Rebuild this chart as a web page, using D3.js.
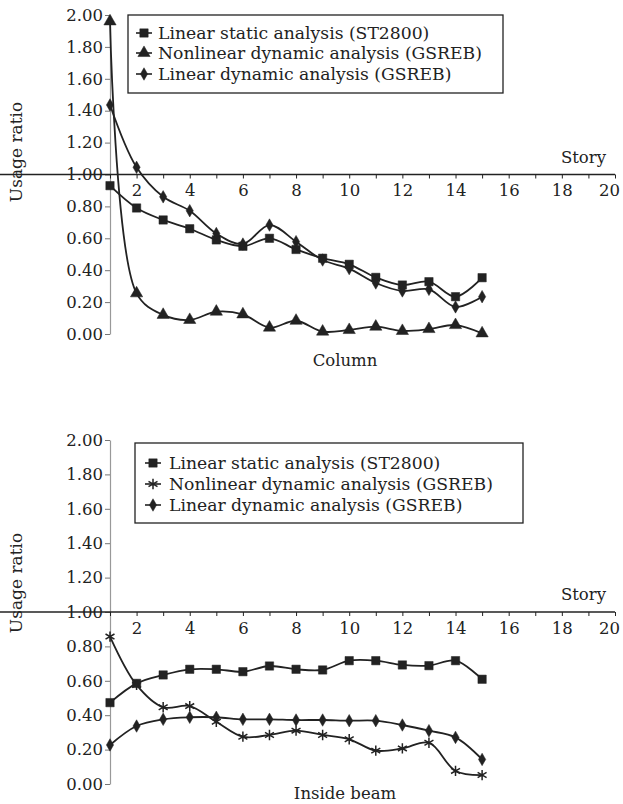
<!DOCTYPE html>
<html>
<head>
<meta charset="utf-8">
<script src="https://cdn.jsdelivr.net/npm/d3@7"></script>
<style>
  body { margin: 0; background: #fff; }
  text { font-family: "DejaVu Serif", serif; fill: #222; }
</style>
</head>
<body>
<div id="chart"></div>
<script>
// stories 1..15
const STORIES = d3.range(1, 16)
const Y_TICKS = [0, 0.2, 0.4, 0.6, 0.8, 1.0, 1.2, 1.4, 1.6, 1.8, 2.0]
const X_TICKS = d3.range(1, 21)

const SERIES_NAMES_TOP = ["Linear static analysis (ST2800)", "Nonlinear dynamic analysis (GSREB)", "Linear dynamic analysis (GSREB)"]
const SERIES_NAMES_BOTTOM = ["Linear static analysis (ST2800)", "Nonlinear dynamic analysis (GSREB)", "Linear dynamic analysis (GSREB)"]

// column
const COL_STATIC = [0.93, 0.79, 0.715, 0.66, 0.59, 0.55, 0.60, 0.53, 0.475, 0.437, 0.355, 0.307, 0.328, 0.234, 0.353]
const COL_NONLIN = [1.96, 0.255, 0.12, 0.088, 0.14, 0.123, 0.04, 0.083, 0.015, 0.025, 0.046, 0.019, 0.031, 0.056, 0.004]
const COL_LINDYN = [1.436, 1.045, 0.86, 0.773, 0.63, 0.564, 0.683, 0.579, 0.464, 0.41, 0.32, 0.27, 0.28, 0.17, 0.234]

// inside beam
const BEAM_STATIC = [0.473, 0.585, 0.634, 0.667, 0.667, 0.653, 0.686, 0.667, 0.663, 0.717, 0.717, 0.692, 0.688, 0.717, 0.609]
const BEAM_NONLIN = [0.857, 0.576, 0.446, 0.453, 0.362, 0.275, 0.285, 0.31, 0.285, 0.26, 0.194, 0.207, 0.24, 0.076, 0.052]
const BEAM_LINDYN = [0.227, 0.337, 0.376, 0.388, 0.388, 0.376, 0.376, 0.372, 0.372, 0.368, 0.368, 0.343, 0.31, 0.271, 0.143]

const WIDTH = 623, HEIGHT = 804
const INK = "#222"
const FONT = "16.5px"

let svg = d3.select("#chart").append("svg")
    .attr("width", WIDTH)
    .attr("height", HEIGHT)

/**
 * Draw one panel
 */
function drawPanel(opts) {
    let g = svg.append("g")
    let x = d3.scaleLinear().domain([1, 20]).range([110, 615])
    let y = d3.scaleLinear().domain([0, 2]).range([opts.bottom, opts.top])

    // y axis
    let ya = g.append("g")
        .attr("transform", "translate(110,0)")
        .call(d3.axisLeft(y).tickValues(Y_TICKS).tickFormat(d3.format(".2f")).tickSize(5).tickSizeOuter(0).tickPadding(2))
    ya.select(".domain").attr("stroke", "#999").attr("stroke-width", 1.2)
    ya.selectAll(".tick line").attr("stroke", "#777")
    ya.selectAll("text").style("font-size", FONT).style("font-family", "DejaVu Serif").attr("fill", INK)

    // x axis at 1.00
    let xa = g.append("g")
        .attr("transform", "translate(0," + y(1) + ")")
        .call(d3.axisBottom(x).tickValues(X_TICKS).tickFormat(d => d % 2 == 0 ? d : "").tickSize(4).tickSizeOuter(0).tickPadding(6))
    xa.select(".domain").attr("stroke", INK).attr("stroke-width", 1.3)
        .attr("d", "M-5,0H615")
    xa.selectAll(".tick line").attr("stroke", INK)
    xa.selectAll("text").style("font-size", FONT).style("font-family", "DejaVu Serif").attr("fill", INK)
    // keep the last label inside the page
    xa.selectAll(".tick text").filter(d => d == 20).attr("dx", -6)

    g.append("text")
        .attr("x", 606).attr("y", y(1) - 12)
        .attr("text-anchor", "end")
        .style("font-size", FONT)
        .text("Story")

    g.append("text")
        .attr("transform", "translate(22," + opts.labelY + ") rotate(-90)")
        .attr("text-anchor", "middle")
        .style("font-size", "17px")
        .text("Usage ratio")

    g.append("text")
        .attr("x", 345).attr("y", opts.captionY)
        .attr("text-anchor", "middle")
        .style("font-size", FONT)
        .text(opts.caption)

    let line = d3.line()
        .x((d, i) => x(STORIES[i]))
        .y(d => y(d))
        .curve(d3.curveCatmullRom.alpha(0.5))

    opts.series.forEach(s => {
        g.append("path")
            .attr("d", line(s.values))
            .attr("fill", "none")
            .attr("stroke", INK)
            .attr("stroke-width", 1.8)

        g.selectAll(null)
            .data(s.values)
            .enter()
            .append("path")
            .attr("transform", (d, i) => "translate(" + x(STORIES[i]) + "," + y(d) + ")")
            .attr("d", d3.symbol(s.symbol, s.size))
            .attr("fill", s.stroked ? "none" : INK)
            .attr("stroke", INK)
            .attr("stroke-width", s.stroked ? 1.5 : 0.5)
    })

    // legend
    let lg = g.append("g")
    lg.append("rect")
        .attr("x", opts.legend.x).attr("y", opts.legend.y)
        .attr("width", opts.legend.w).attr("height", opts.legend.h)
        .attr("fill", "#fff")
        .attr("stroke", INK)
        .attr("stroke-width", 1.3)
    opts.series.forEach((s, i) => {
        let cy = opts.legend.rows[i]
        let mx = opts.legend.markerX
        lg.append("line")
            .attr("x1", mx - 8).attr("x2", mx + 8)
            .attr("y1", cy).attr("y2", cy)
            .attr("stroke", INK).attr("stroke-width", 1.6)
        lg.append("path")
            .attr("transform", "translate(" + mx + "," + cy + ")")
            .attr("d", d3.symbol(s.symbol, s.size))
            .attr("fill", s.stroked ? "none" : INK)
            .attr("stroke", INK)
            .attr("stroke-width", s.stroked ? 1.5 : 0.5)
        lg.append("text")
            .attr("x", opts.legend.textX).attr("y", cy)
            .attr("dy", "0.35em")
            .style("font-size", "17.2px")
            .text(opts.names[i])
    })
}

drawPanel({
    top: 15, bottom: 334, labelY: 152, caption: "Column", captionY: 366,
    names: SERIES_NAMES_TOP,
    series: [
        { values: COL_STATIC, symbol: d3.symbolSquare, size: 70 },
        { values: COL_NONLIN, symbol: d3.symbolTriangle, size: 65 },
        { values: COL_LINDYN, symbol: d3.symbolDiamond, size: 45 }
    ],
    legend: { x: 128, y: 15, w: 375, h: 78, rows: [33, 53, 74], markerX: 144, textX: 158 }
})

drawPanel({
    top: 440, bottom: 784, labelY: 583, caption: "Inside beam", captionY: 799,
    names: SERIES_NAMES_BOTTOM,
    series: [
        { values: BEAM_STATIC, symbol: d3.symbolSquare, size: 70 },
        { values: BEAM_NONLIN, symbol: d3.symbolAsterisk, size: 75, stroked: true },
        { values: BEAM_LINDYN, symbol: d3.symbolDiamond, size: 45 }
    ],
    legend: { x: 135, y: 443, w: 388, h: 80, rows: [463, 484, 505], markerX: 153, textX: 169 }
})
</script>
</body>
</html>
